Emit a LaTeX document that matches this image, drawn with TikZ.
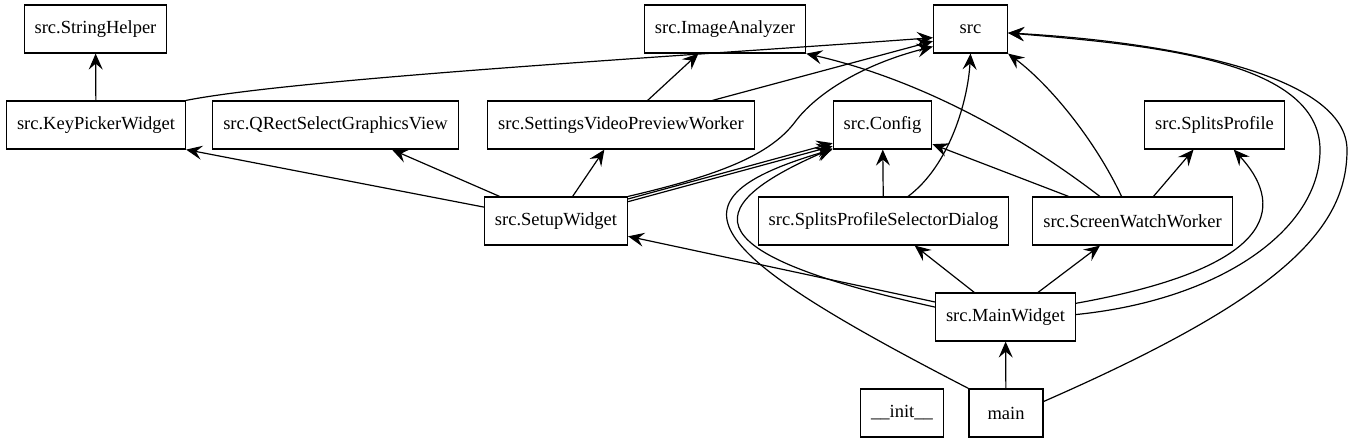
\documentclass[tikz,border=0pt]{standalone}
\usepackage{fontspec}
\setmainfont{Liberation Serif}
\newfontfamily\boxfont{Liberation Serif}
\usetikzlibrary{arrows.meta}

\begin{document}
\begin{tikzpicture}[x=1pt,y=-1pt,
  box/.style={draw,line width=1.2pt,minimum width=74pt,minimum height=48pt,inner xsep=10.5pt,font=\boxfont\fontsize{18.5}{22}\selectfont},
  dep/.style={line width=1.2pt,-{Stealth[length=16pt,width=14pt,inset=6pt]}}]

  \useasboundingbox (0,0) rectangle (1354,443);

  % Top row
  \node[box] (strh) at (95.5,29) {src.StringHelper};
  \node[box] (imga) at (725,29) {src.ImageAnalyzer};
  \node[box] (src) at (970.5,29) {src};

  % Second row
  \node[box] (kpw) at (96,125) {src.KeyPickerWidget};
  \node[box] (qrect) at (335.5,125) {src.QRectSelectGraphicsView};
  \node[box] (svpw) at (621,125) {src.SettingsVideoPreviewWorker};
  \node[box] (cfg) at (882.5,125) {src.Config};
  \node[box] (sprof) at (1214.5,125) {src.SplitsProfile};

  % Third row
  \node[box] (sw) at (556,221) {src.SetupWidget};
  \node[box] (spsd) at (883.5,221) {src.SplitsProfileSelectorDialog};
  \node[box] (sww) at (1132.5,221) {src.ScreenWatchWorker};

  % Bottom
  \node[box] (mw) at (1005.5,317) {src.MainWidget};
  \node[box] (init) at (902,413) {\_\_init\_\_};
  \node[box] (main) at (1006,413) {main};

  % KeyPickerWidget, SettingsVideoPreviewWorker
  \draw[dep] (kpw) -- (strh);
  \draw[dep] (kpw.north east) .. controls (300,78) and (700,55) .. (src.193);
  \draw[dep] (svpw) -- (imga);
  \draw[dep] (svpw) -- (src.198);

  % SetupWidget
  \draw[dep] (sw) -- (kpw.south east);
  \draw[dep] (sw) -- (qrect);
  \draw[dep] (sw) -- (svpw);
  \draw[dep] (sw.north east) .. controls (720,175) and (770,155) .. (795,122)
    .. controls (815,95) and (860,65) .. (src.205);
  \draw[dep] (sw.17) -- (cfg.200);
  \draw[dep] (sw.15) -- (cfg.203);

  % SplitsProfileSelectorDialog, ScreenWatchWorker
  \draw[dep] (spsd) -- (cfg);
  \draw[dep] (spsd.45) .. controls (950,165) and (968,100) .. (src.south);
  \draw[dep] (sww) -- (cfg);
  \draw[dep] (sww.143) .. controls (1000,120) and (900,75) .. (imga.south east);
  \draw[dep] (sww.114) .. controls (1095,140) and (1050,85) .. (src.south east);
  \draw[dep] (sww) -- (sprof);

  % MainWidget
  \draw[dep] (mw) -- (sw);
  \draw[dep] (mw.172) .. controls (700,255) and (690,210) .. (cfg.205);
  \draw[dep] (mw) -- (spsd);
  \draw[dep] (mw) -- (sww);
  \draw[dep] (mw.11) .. controls (1290,265) and (1280,200) .. (sprof.308);
  \draw[dep] (mw.2) .. controls (1220,300) and (1320,230) .. (1320,150)
    .. controls (1320,60) and (1150,45) .. (src.354);

  % main
  \draw[dep] (main) -- (mw);
  \draw[dep] (main.north west) .. controls (700,250) and (660,200) .. (cfg.206);
  \draw[dep] (main.17) .. controls (1280,298) and (1347,230) .. (1347,150)
    .. controls (1347,75) and (1170,42) .. (src.354);
\end{tikzpicture}
\end{document}
